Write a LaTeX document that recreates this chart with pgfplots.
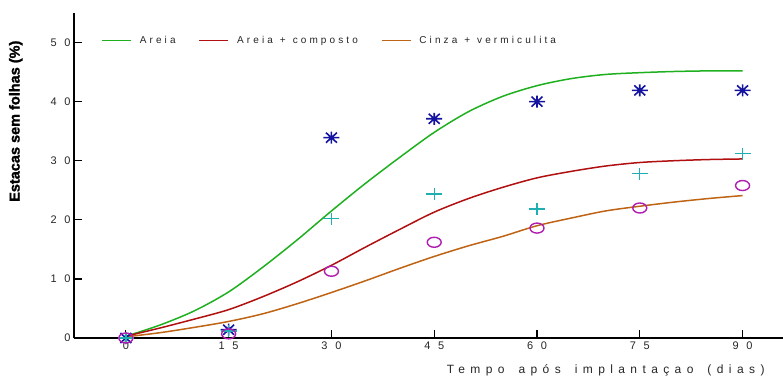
\documentclass[border=0pt]{standalone}
\usepackage{pgfplots}
\pgfplotsset{compat=1.18}
\usepackage{fontspec}
\setmainfont{Liberation Sans}
\newfontfamily\tickfamily[LetterSpace=70]{Liberation Sans}
\newfontfamily\labfamily[LetterSpace=45]{Liberation Sans}
\newfontfamily\legfamily[LetterSpace=31]{Liberation Sans}
\newfontfamily\yfamily[FakeBold=1.5]{Liberation Sans Bold}
\definecolor{cgreen}{RGB}{30,176,30}
\definecolor{cred}{RGB}{176,16,16}
\definecolor{corange}{RGB}{190,100,20}
\definecolor{cblue}{RGB}{20,20,160}
\definecolor{ccyan}{RGB}{30,176,176}
\definecolor{cmag}{RGB}{176,30,176}
\pgfdeclareplotmark{ast8}{%
  \pgfpathmoveto{\pgfqpoint{-8bp}{0bp}}\pgfpathlineto{\pgfqpoint{8bp}{0bp}}%
  \pgfpathmoveto{\pgfqpoint{0bp}{-6bp}}\pgfpathlineto{\pgfqpoint{0bp}{6bp}}%
  \pgfpathmoveto{\pgfqpoint{-5.5bp}{-5bp}}\pgfpathlineto{\pgfqpoint{5.5bp}{5bp}}%
  \pgfpathmoveto{\pgfqpoint{-5.5bp}{5bp}}\pgfpathlineto{\pgfqpoint{5.5bp}{-5bp}}%
  \pgfusepathqstroke}
\pgfdeclareplotmark{hplus}{%
  \pgfpathmoveto{\pgfqpoint{-8bp}{0bp}}\pgfpathlineto{\pgfqpoint{8bp}{0bp}}%
  \pgfpathmoveto{\pgfqpoint{0bp}{-6bp}}\pgfpathlineto{\pgfqpoint{0bp}{6bp}}%
  \pgfusepathqstroke}
\pgfdeclareplotmark{hellip}{%
  \pgfpathellipse{\pgfpointorigin}{\pgfqpoint{7bp}{0bp}}{\pgfqpoint{0bp}{5bp}}%
  \pgfusepathqstroke}
\begin{document}
\begin{tikzpicture}
\path[use as bounding box] (-74bp,-39bp) rectangle (709bp,338bp);
\begin{axis}[
  scale only axis, width=709bp, height=325bp,
  xmin=-7.57, xmax=95.9, ymin=0, ymax=55,
  axis x line=bottom, axis y line=left,
  axis line style={-},
  x axis line style={line width=2bp},
  y axis line style={line width=1.5bp},
  xtick={0,15,...,90}, ytick={0,10,...,50},
  tick align=inside, major tick length=8bp,
  tick style={black, line width=1.2bp},
  ticklabel style={font=\tickfamily\fontsize{11bp}{13bp}\selectfont, text=black!85},
  /pgf/number format/assume math mode=true,
  xlabel={Tempo\hspace{14bp}após\hspace{14bp}implantaçao\hspace{14bp}(dias)},
  xlabel style={font=\labfamily\fontsize{12bp}{14bp}\selectfont, text=black!85, at={(axis description cs:0.750,-0.10)}, anchor=center},
  ylabel={Estacas sem folhas (\%)},
  ylabel style={font=\yfamily\fontsize{14.5bp}{16bp}\selectfont, at={(axis description cs:-0.082,0.667)}, anchor=center},
  clip=false,
  legend columns=3,
  legend style={draw=none, fill=none, at={(axis description cs:0.034,0.915)}, anchor=west,
    font=\legfamily\fontsize{10bp}{12bp}\selectfont, text=black!85,
    /tikz/every odd column/.style={column sep=6bp},
    /tikz/every even column/.style={column sep=21bp}},
  legend image code/.code={\draw[#1, line width=1.6bp] (0bp,0bp) -- (29bp,0bp);},
]
\addplot[cgreen, line width=1.5bp, smooth] coordinates {
(0,0.3) (5,2.2) (10,4.6) (15,7.8) (20,12.0) (25,16.6) (30,21.5) (35,26.2) (40,30.6)
(45,34.8) (50,38.3) (55,40.9) (60,42.7) (65,43.9) (70,44.6) (75,44.9) (80,45.1) (85,45.2) (90,45.2)};
\addlegendentry{Areia}
\addplot[cred, line width=1.5bp, smooth] coordinates {
(0,0.3) (5,1.7) (10,3.2) (15,4.8) (20,7.0) (25,9.5) (30,12.3) (35,15.4) (40,18.4)
(45,21.3) (50,23.6) (55,25.5) (60,27.1) (65,28.2) (70,29.1) (75,29.7) (80,30.0) (85,30.2) (90,30.3)};
\addlegendentry{Areia\hspace{7bp}+\hspace{7bp}composto}
\addplot[corange, line width=1.5bp, smooth] coordinates {
(0,0.2) (5,0.9) (10,1.8) (15,2.8) (20,4.1) (25,5.8) (30,7.7) (35,9.7) (40,11.8)
(45,13.8) (50,15.6) (55,17.2) (60,19.0) (65,20.3) (70,21.5) (75,22.3) (80,23.0) (85,23.6) (90,24.1)};
\addlegendentry{Cinza\hspace{7bp}+\hspace{7bp}vermiculita}
\addplot[only marks, forget plot, mark=ast8, cblue, line width=1.6bp] coordinates {
(0,0) (15,1.4) (30,33.9) (45,37.1) (60,40.0) (75,41.9) (90,41.9)};
\addplot[only marks, forget plot, mark=hplus, ccyan, line width=1.4bp] coordinates {
(0,0) (15,1.2) (30,20.2) (45,24.4) (60,21.8) (75,27.8) (90,31.2)};
\addplot[only marks, forget plot, mark=hellip, cmag, line width=1.4bp] coordinates {
(0,0) (15,0.7) (30,11.3) (45,16.2) (60,18.6) (75,22.0) (90,25.8)};
\end{axis}
\end{tikzpicture}
\end{document}
